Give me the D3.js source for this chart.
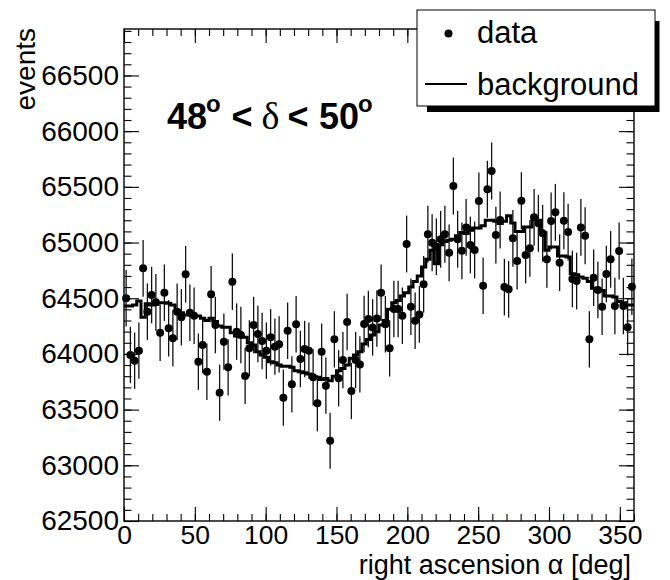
<!DOCTYPE html>
<html><head><meta charset="utf-8">
<script src="https://cdn.jsdelivr.net/npm/d3@7"></script>
<style>
body{margin:0;background:#fff}
svg{display:block}
text{font-family:"Liberation Sans",Arial,Helvetica,sans-serif;fill:#000}
</style>
</head><body>
<svg id="chart" width="670" height="580"></svg>
<script>
// ---- data (3 degree bins in right ascension, 0..360) ----
const binWidth = 3;
const dataCounts = [
64499,63990,63939,64029,64768,64379,64529,64463,64190,64549,
64230,64140,64379,64329,64715,64370,64343,63930,64080,63840,
64535,64259,63652,64110,63880,64648,64200,64170,63802,64050,
64259,64179,64116,64029,64149,64065,64086,63607,64208,63727,
64266,63954,64044,64029,63790,63557,64020,63715,63221,64131,
63781,63945,64286,63667,63945,63906,64268,64313,64238,64319,
64549,64266,64050,64403,64403,64343,64987,64424,64298,64355,
64625,65074,64998,64962,65029,65074,64908,65507,65029,64926,
65136,64978,64933,65373,64612,65478,65642,65067,65202,64600,
64580,65038,64834,65375,64888,64948,65226,65172,65083,64849,
65193,65271,64819,65196,65094,64672,64654,65136,65061,64131,
64684,64574,64424,64717,64849,64430,64924,64430,64239,64603
];
const bgCounts = [
64430,64430,64440,64475,64330,64450,64440,64445,64460,64460,
64455,64440,64390,64370,64350,64355,64345,64340,64320,64300,
64320,64290,64250,64240,64240,64190,64160,64155,64150,64100,
64080,64020,63990,63970,63930,63920,63900,63890,63890,63880,
63850,63840,63830,63820,63790,63790,63770,63780,63760,63800,
63850,63870,63900,63960,63990,64020,64090,64130,64170,64200,
64260,64300,64400,64460,64480,64520,64550,64600,64650,64700,
64780,64850,64930,64810,64980,65010,65020,65030,65060,65090,
65080,65110,65130,65130,65150,65200,65200,65190,65170,65190,
65240,65175,65100,65100,65140,65140,65230,65200,65085,64930,
64960,64960,64880,64880,64870,64720,64710,64690,64680,64650,
64590,64580,64570,64520,64520,64510,64470,64460,64440,64440
];
const xMajorTicks = [0,50,100,150,200,250,300,350];
const xMinorTicks = [0,10,20,30,40,50,60,70,80,90,100,110,120,130,140,150,160,170,180,190,200,210,220,230,240,250,260,270,280,290,300,310,320,330,340,350,360];
const yMajorTicks = [62500,63000,63500,64000,64500,65000,65500,66000,66500];
const yMinorTicks = [62500,62600,62700,62800,62900,63000,63100,63200,63300,63400,63500,63600,63700,63800,63900,64000,64100,64200,64300,64400,64500,64600,64700,64800,64900,65000,65100,65200,65300,65400,65500,65600,65700,65800,65900,66000,66100,66200,66300,66400,66500,66600,66700,66800,66900];
const xTitle = "right ascension \u03b1 [deg]";
const yTitle = "events";
const legendLabels = ["data", "background"];

// ---- layout ----
const svg = d3.select("#chart");
const L = 124, R = 634, T = 29, B = 521;
const x = d3.scaleLinear().domain([0, 360]).range([L, R]);
const y = d3.scaleLinear().domain([62500, 66917]).range([B, T]);

function styleAxis(fs){
  return g => {
    g.attr("font-family", null).attr("font-size", null);
    g.select(".domain").remove();
    g.selectAll(".tick line").attr("stroke", "#000").attr("stroke-width", 1.1);
    g.selectAll(".tick text").style("font-size", fs + "px");
  };
}

// minor ticks
svg.append("g").attr("transform", `translate(0,${B})`)
  .call(d3.axisBottom(x).tickValues(xMinorTicks).tickSize(-7).tickFormat("")).call(styleAxis(26));
svg.append("g").attr("transform", `translate(0,${T})`)
  .call(d3.axisTop(x).tickValues(xMinorTicks).tickSize(-7).tickFormat("")).call(styleAxis(26));
svg.append("g").attr("transform", `translate(${L},0)`)
  .call(d3.axisLeft(y).tickValues(yMinorTicks).tickSize(-7.5).tickFormat("")).call(styleAxis(28));
svg.append("g").attr("transform", `translate(${R},0)`)
  .call(d3.axisRight(y).tickValues(yMinorTicks).tickSize(-7.5).tickFormat("")).call(styleAxis(28));

// major ticks
svg.append("g").attr("transform", `translate(0,${B})`)
  .call(d3.axisBottom(x).tickValues(xMajorTicks).tickSize(-14).tickPadding(4).tickFormat(d3.format("d"))).call(styleAxis(26.5));
svg.append("g").attr("transform", `translate(0,${T})`)
  .call(d3.axisTop(x).tickValues(xMajorTicks).tickSize(-14).tickFormat("")).call(styleAxis(26.5));
svg.append("g").attr("transform", `translate(${L},0)`)
  .call(d3.axisLeft(y).tickValues(yMajorTicks).tickSize(-15).tickPadding(5).tickFormat(d3.format("d"))).call(styleAxis(28));
svg.append("g").attr("transform", `translate(${R},0)`)
  .call(d3.axisRight(y).tickValues(yMajorTicks).tickSize(-15).tickFormat("")).call(styleAxis(28));

// frame
svg.append("rect").attr("x", L).attr("y", T).attr("width", R - L).attr("height", B - T)
  .attr("fill", "none").attr("stroke", "#000").attr("stroke-width", 1.4);

// error bars
const pts = dataCounts.map((v, i) => ({c: i * binWidth + binWidth / 2, v, e: Math.sqrt(v)}));
svg.append("g").selectAll("line").data(pts).join("line")
  .attr("x1", d => x(d.c)).attr("x2", d => x(d.c))
  .attr("y1", d => y(d.v - d.e)).attr("y2", d => y(d.v + d.e))
  .attr("stroke", "#111").attr("stroke-width", 1.3);

// background histogram
const bgPts = bgCounts.map((v, i) => [i * binWidth, v]);
bgPts.push([360, bgCounts[bgCounts.length - 1]]);
svg.append("path").datum(bgPts)
  .attr("d", d3.line().x(d => x(d[0])).y(d => y(d[1])).curve(d3.curveStepAfter))
  .attr("fill", "none").attr("stroke", "#000").attr("stroke-width", 3);

// data points
svg.append("g").selectAll("circle").data(pts).join("circle")
  .attr("cx", d => x(d.c)).attr("cy", d => y(d.v)).attr("r", 4).attr("fill", "#000");

// axis titles
svg.append("text").attr("x", 631).attr("y", 573.5).attr("text-anchor", "end")
  .style("font-size", "27px").text(xTitle);
svg.append("text").attr("transform", "translate(35,28) rotate(-90)").attr("text-anchor", "end")
  .style("font-size", "28px").text(yTitle);

// declination label
const lab = svg.append("g").style("font-weight", "bold");
lab.append("text").attr("x", 167).attr("y", 129).style("font-size", "36px").text("48");
lab.append("text").attr("x", 206).attr("y", 112).style("font-size", "24px").text("o");
lab.append("text").attr("x", 242).attr("y", 129).attr("text-anchor", "middle").style("font-size", "36px").text("<");
svg.append("text").attr("x", 270.5).attr("y", 129).attr("text-anchor", "middle")
  .style("font-family", "'Liberation Serif','DejaVu Serif',serif").style("font-size", "38px").text("\u03b4");
lab.append("text").attr("x", 298).attr("y", 129).attr("text-anchor", "middle").style("font-size", "36px").text("<");
lab.append("text").attr("x", 319).attr("y", 129).style("font-size", "36px").text("50");
lab.append("text").attr("x", 358).attr("y", 112).style("font-size", "24px").text("o");

// legend
const lg = svg.append("g");
lg.append("rect").attr("x", 427).attr("y", 21).attr("width", 232.5).attr("height", 91).attr("fill", "#000");
lg.append("rect").attr("x", 417).attr("y", 10).attr("width", 238).attr("height", 96)
  .attr("fill", "#fff").attr("stroke", "#000").attr("stroke-width", 1);
lg.append("circle").attr("cx", 448.5).attr("cy", 33.5).attr("r", 4).attr("fill", "#000");
lg.append("line").attr("x1", 425).attr("x2", 467).attr("y1", 84).attr("y2", 84)
  .attr("stroke", "#000").attr("stroke-width", 2);
lg.append("text").attr("x", 477).attr("y", 43).style("font-size", "31px").text(legendLabels[0]);
lg.append("text").attr("x", 477).attr("y", 95).style("font-size", "31px").text(legendLabels[1]);
</script>
</body></html>
